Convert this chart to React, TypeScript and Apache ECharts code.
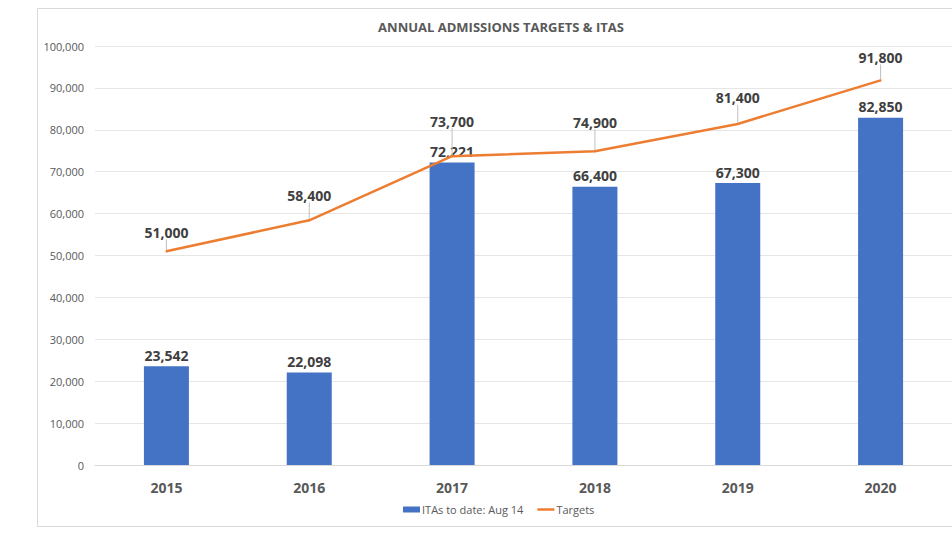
import React, { useEffect, useRef } from "react";
import * as echarts from "echarts";

const years = ["2015", "2016", "2017", "2018", "2019", "2020"];
const itas = [23542, 22098, 72221, 66400, 67300, 82850];
const targets = [51000, 58400, 73700, 74900, 81400, 91800];
const targetLabelShift = [-6, -12, -22, -16, -13, -10];

const FONT = "'Open Sans', 'Liberation Sans', sans-serif";

export default function App() {
  const ref = useRef<HTMLDivElement>(null);
  useEffect(() => {
    if (!ref.current) return;
    const chart = echarts.init(ref.current, null, { renderer: "svg" });
    chart.setOption({
      animation: false,
      backgroundColor: "#ffffff",
      textStyle: { fontFamily: FONT },
      title: {
        text: "ANNUAL ADMISSIONS TARGETS & ITAS",
        left: 496,
        textAlign: "center",
        top: 15,
        textStyle: { fontFamily: FONT, fontSize: 13, fontWeight: "bold", color: "#595959" },
      },
      graphic: [
        {
          type: "rect",
          shape: { x: 37.5, y: 8.5, width: 930, height: 518 },
          style: { fill: "none", stroke: "#d9d9d9", lineWidth: 1 },
          silent: true,
        },
      ],
      legend: {
        bottom: 16,
        left: 398,
        itemWidth: 17,
        itemHeight: 6,
        itemGap: 14,
        textStyle: { fontFamily: FONT, fontSize: 11, color: "#595959", padding: [0, 0, 0, -3] },
        data: [
          { name: "ITAs to date: Aug 14", icon: "rect" },
          { name: "Targets", icon: "path://M0,0 L17,0 L17,2.5 L0,2.5 Z" },
        ],
      },
      grid: { left: 95, right: 0, top: 46, bottom: 71, containLabel: false },
      xAxis: {
        type: "category",
        data: years,
        axisLine: { show: true, lineStyle: { color: "#d9d9d9" } },
        axisTick: { show: false },
        axisLabel: { fontFamily: FONT, fontSize: 14, fontWeight: "bold", color: "#595959", margin: 15 },
      },
      yAxis: {
        type: "value",
        min: 0,
        max: 100000,
        interval: 10000,
        axisLine: { show: false },
        axisTick: { show: false },
        splitLine: { lineStyle: { color: "#e6e6e6" } },
        axisLabel: {
          fontFamily: FONT,
          fontSize: 11,
          color: "#595959",
          margin: 11,
          formatter: (v: number) => v.toLocaleString("en-US"),
        },
      },
      series: [
        {
          name: "ITAs to date: Aug 14",
          type: "bar",
          data: itas,
          barWidth: 45,
          itemStyle: { color: "#4472C4" },
          label: {
            show: true,
            position: "top",
            distance: 4,
            fontFamily: FONT,
            fontSize: 14,
            fontWeight: "bold",
            color: "#404040",
            formatter: (p: any) => Number(p.value).toLocaleString("en-US"),
          },
        },
        {
          name: "Targets",
          type: "line",
          data: targets,
          symbol: "circle",
          symbolSize: 2,
          showSymbol: true,
          lineStyle: { color: "#ED7D31", width: 2.5 },
          itemStyle: { color: "#ED7D31" },
          label: {
            show: true,
            position: "top",
            distance: 5,
            fontFamily: FONT,
            fontSize: 14,
            fontWeight: "bold",
            color: "#404040",
            formatter: (p: any) => Number(p.value).toLocaleString("en-US"),
          },
          labelLine: { show: true, lineStyle: { color: "#bfbfbf", width: 1 } },
          labelLayout: (params: any) => ({ dy: targetLabelShift[params.dataIndex] }),
          z: 3,
        },
      ],
    });
    return () => chart.dispose();
  }, []);
  return (
    <div
      ref={ref}
      style={{ position: "fixed", left: 0, top: 0, width: 952, height: 536 }}
    />
  );
}
